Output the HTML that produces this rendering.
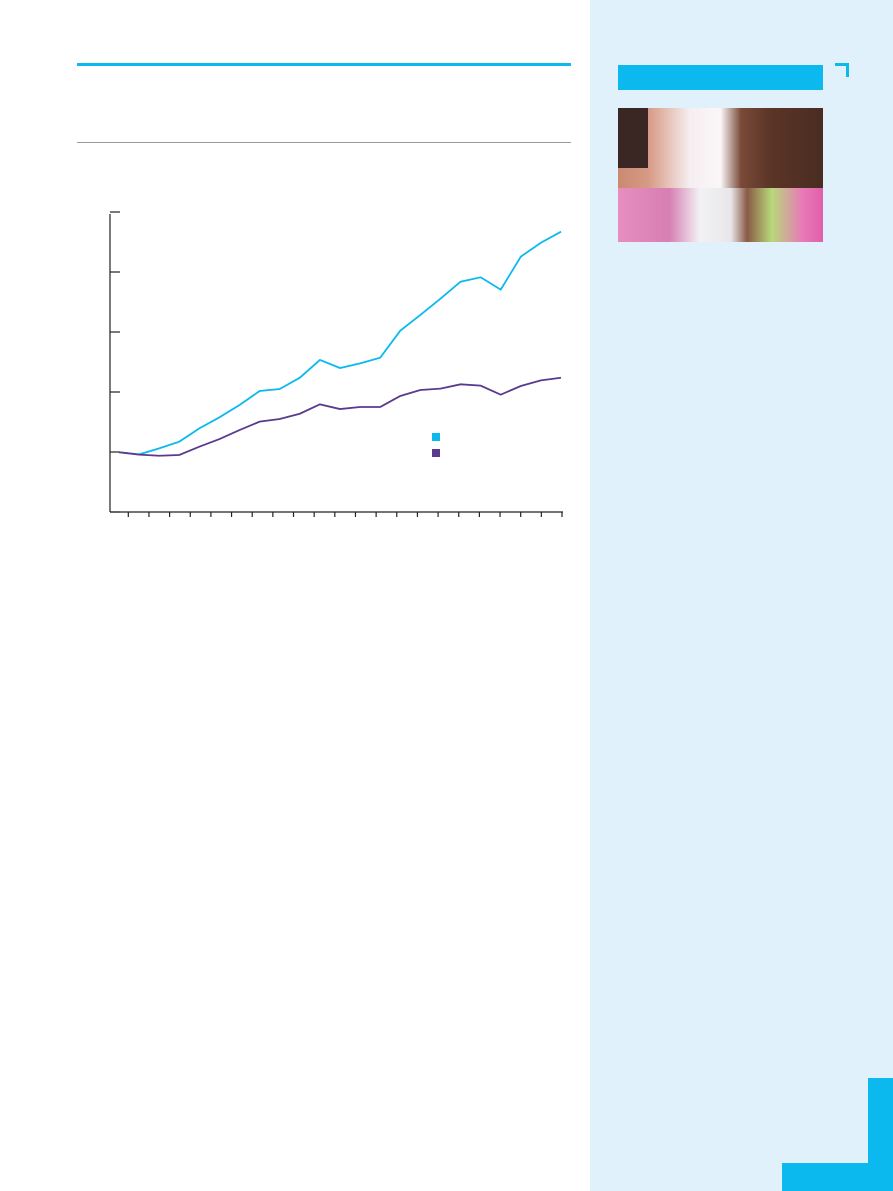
<!DOCTYPE html>
<html><head><meta charset="utf-8"><style>
body{margin:0;width:893px;height:1191px;position:relative;background:#fff;overflow:hidden;font-family:"Liberation Sans",sans-serif}
div{position:absolute}
</style></head><body>
<div style="left:77px;top:63px;width:494px;height:3px;background:#0bb9ee"></div>
<div style="left:77px;top:142px;width:494px;height:1px;background:#9a9a9a"></div>
<div style="left:590px;top:0;width:303px;height:1191px;background:#e1f1fb"></div>
<div style="left:618px;top:65px;width:205px;height:25px;background:#0bb9ee"></div>
<div style="left:835px;top:63px;width:11px;height:11px;border-top:3px solid #0bb9ee;border-right:3px solid #0bb9ee;box-sizing:border-box;width:14px;height:14px"></div>
<div style="left:618px;top:108px;width:205px;height:134px;overflow:hidden;background:linear-gradient(90deg,#c98a70 0%,#d79a86 15%,#f6eef0 35%,#faf7f8 50%,#7a4a38 60%,#5a3426 75%,#4a2c22 100%)">
 <div style="left:0;top:80px;width:205px;height:54px;background:linear-gradient(90deg,#e88dc0 0%,#d67fb3 25%,#f2f2f4 40%,#e9e6ea 55%,#8a5a46 63%,#b8d87a 75%,#e87ab8 90%,#e05ea8 100%)"></div>
 <div style="left:0;top:0;width:30px;height:60px;background:#3a2622"></div>
</div>
<div style="left:868px;top:1078px;width:25px;height:113px;background:#0bb9ee"></div>
<div style="left:782px;top:1163px;width:111px;height:28px;background:#0bb9ee"></div>
<svg style="position:absolute;left:0;top:0" width="893" height="600">
<g id="axes"></g><g id="series"></g>
<rect x="432" y="433" width="8" height="8" fill="#0bb9ee"/>
<rect x="432" y="449" width="8" height="8" fill="#5a3a8e"/>
</svg>
<script>
const yTicks=[50,100,150,200,250,300];
const seriesA=[99.8,98,103,108.6,119.7,128.9,139.2,150.8,152.5,161.9,176.7,170,173.9,178.6,201.1,214.2,227.8,241.9,245.6,235.3,262.8,274.4,283.6];
const seriesB=[99.8,97.8,96.9,97.5,104.4,110.8,118.3,125.3,127.5,131.9,139.7,135.8,137.5,137.5,146.7,151.7,152.8,156.4,155.3,147.8,155,159.7,161.9];
const categories=seriesA.map((_,i)=>i);
const NS='http://www.w3.org/2000/svg';
const y=v=>512-(v-50)*60/50;
const x=i=>119+i*(561-119)/(categories.length-1);
const ax=document.getElementById('axes'),sg=document.getElementById('series');
function mk(t,a,p){const e=document.createElementNS(NS,t);for(const k in a)e.setAttribute(k,a[k]);p.appendChild(e);return e;}
let e=mk('line',{x1:110,y1:214,x2:110,y2:512,stroke:'#222','stroke-width':1.2},ax);


e=mk('line',{x1:110,y1:512,x2:563,y2:512,stroke:'#222','stroke-width':1.2},ax);


yTicks.forEach(v=>{const t=mk('line',{x1:110,x2:120,y1:y(v),y2:y(v),stroke:'#222','stroke-width':1.2},ax);

});
for(let i=0;i<categories.length-1;i++){const tx=128.3+i*(562-128.3)/21;const t=mk('line',{x1:tx,x2:tx,y1:512,y2:517,stroke:'#222','stroke-width':1.2},ax);

}
[[seriesA,'#0bb9ee','series-a-line'],[seriesB,'#5a3a8e','series-b-line']].forEach(([d,c,n])=>{
const p=mk('polyline',{points:d.map((v,i)=>x(i)+','+y(v)).join(' '),fill:'none',stroke:c,'stroke-width':1.8},sg);

});
</script>
</body></html>
